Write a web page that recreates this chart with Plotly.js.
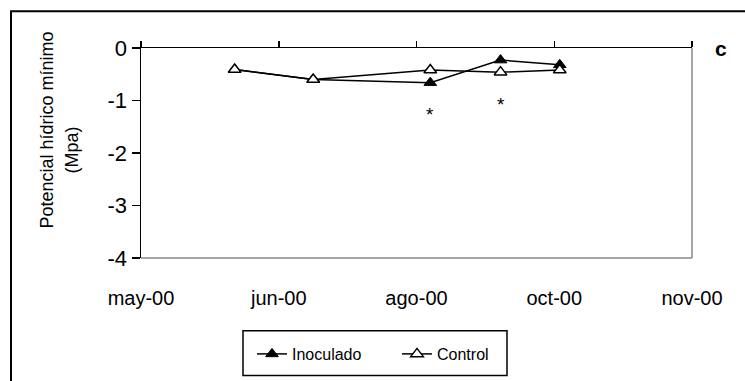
<!DOCTYPE html>
<html>
<head>
<meta charset="utf-8">
<script src="https://cdn.plot.ly/plotly-3.0.1.min.js"></script>
<style>html,body{margin:0;padding:0;background:#fff;}#chart{width:745px;height:381px;}</style>
</head>
<body>
<div id="chart"></div>
<script>
// Tick labels on the (evenly spaced) date axis
const tickPositions = [0, 1, 2, 3, 4];
const tickLabels = ["may-00", "jun-00", "ago-00", "oct-00", "nov-00"];
// Value-axis ticks
const yTickValues = [0, -1, -2, -3, -4];
const yTickLabels = ["0", "-1", "-2", "-3", "-4"];
// Sampling dates, expressed as positions along that axis
const samplePositions = [0.68, 1.25, 2.10, 2.61, 3.04];
// Minimum water potential (MPa)
const inoculado = [-0.41, -0.60, -0.66, -0.23, -0.32];
const control = [-0.41, -0.60, -0.42, -0.46, -0.42];
// Significance marks
const starPositions = [2.10, 2.61];
const starValues = [-1.27, -1.07];

const FONT = "Liberation Sans, Arial, sans-serif";

const traces = [
  {
    x: samplePositions, y: inoculado, name: "Inoculado", type: "scatter", mode: "lines+markers",
    xaxis: "x", yaxis: "y",
    line: {color: "#000", width: 1.5},
    marker: {symbol: "triangle-up", size: 11, color: "#000", line: {color: "#000", width: 1}}
  },
  {
    x: samplePositions, y: control, name: "Control", type: "scatter", mode: "lines+markers",
    xaxis: "x2", yaxis: "y",
    line: {color: "#000", width: 1.5},
    marker: {symbol: "triangle-up", size: 11, color: "#fff", line: {color: "#000", width: 1.5}}
  }
];

const annotations = starPositions.map((x, i) => ({
  x: x, y: starValues[i], xref: "x", yref: "y", text: "*", showarrow: false,
  font: {family: FONT, size: 19, color: "#000"}
}));
annotations.push(
  {xref: "paper", yref: "paper", x: (47 - 141) / 551, y: (259 - 131) / 211, text: "Potencial hídrico mínimo",
   textangle: -90, showarrow: false, xanchor: "center", yanchor: "middle",
   font: {family: FONT, size: 18, color: "#000"}},
  {xref: "paper", yref: "paper", x: (72 - 141) / 551, y: (259 - 151) / 211, text: "(Mpa)",
   textangle: -90, showarrow: false, xanchor: "center", yanchor: "middle",
   font: {family: FONT, size: 18, color: "#000"}},
  {xref: "paper", yref: "paper", x: (721 - 141) / 551, y: (259 - 48) / 211, text: "<b>c</b>",
   showarrow: false, xanchor: "center", yanchor: "middle",
   font: {family: FONT, size: 21, color: "#000"}}
);

const layout = {
  width: 745, height: 381,
  margin: {l: 141, r: 53, t: 48, b: 122},
  paper_bgcolor: "#fff", plot_bgcolor: "#fff",
  font: {family: FONT, color: "#000"},
  showlegend: true,
  legend: {
    orientation: "h", x: (397 - 141) / 551, xanchor: "center", y: (259 - 354) / 211, yanchor: "middle",
    borderwidth: 0, bgcolor: "rgba(0,0,0,0)", font: {family: FONT, size: 16, color: "#000"},
    traceorder: "normal", entrywidth: 100, entrywidthmode: "pixels"
  },
  xaxis: {
    range: [0, 4], tickvals: tickPositions, ticktext: tickLabels,
    showline: false, showgrid: false, zeroline: false, ticks: "",
    tickfont: {family: FONT, size: 20, color: "#000"}, ticklabelstandoff: 26
  },
  xaxis2: {
    range: [0, 4], overlaying: "x", side: "top", anchor: "y", tickvals: tickPositions,
    showticklabels: false, ticks: "outside", ticklen: 6, tickwidth: 1.5, tickcolor: "#000",
    showline: true, linecolor: "#000", linewidth: 1.5, showgrid: false, zeroline: false
  },
  yaxis: {
    range: [-4, 0], tickvals: yTickValues, ticktext: yTickLabels,
    showline: true, linecolor: "#000", linewidth: 1.5,
    ticks: "outside", ticklen: 8, tickwidth: 1.5, tickcolor: "#000",
    showgrid: false, zeroline: false,
    tickfont: {family: FONT, size: 22, color: "#000"}
  },
  shapes: [
    {type: "line", xref: "paper", yref: "paper", x0: 1, x1: 1, y0: 0, y1: 1, line: {color: "#888", width: 1.5}},
    {type: "line", xref: "paper", yref: "paper", x0: 0, x1: 1, y0: 0, y1: 0, line: {color: "#888", width: 1.5}},
    {type: "rect", xref: "paper", yref: "paper", x0: (11 - 141) / 551, x1: 2, y0: -2, y1: (259 - 11) / 211,
     line: {color: "#000", width: 2}, fillcolor: "rgba(0,0,0,0)", layer: "below"},
    {type: "rect", xref: "paper", yref: "paper", x0: (243 - 141) / 551, x1: (507 - 141) / 551,
     y0: (259 - 377) / 211, y1: (259 - 332) / 211,
     line: {color: "#000", width: 1.5}, fillcolor: "rgba(0,0,0,0)", layer: "below"}
  ],
  annotations: annotations
};

Plotly.newPlot("chart", traces, layout, {displayModeBar: false, staticPlot: true});
</script>
</body>
</html>
